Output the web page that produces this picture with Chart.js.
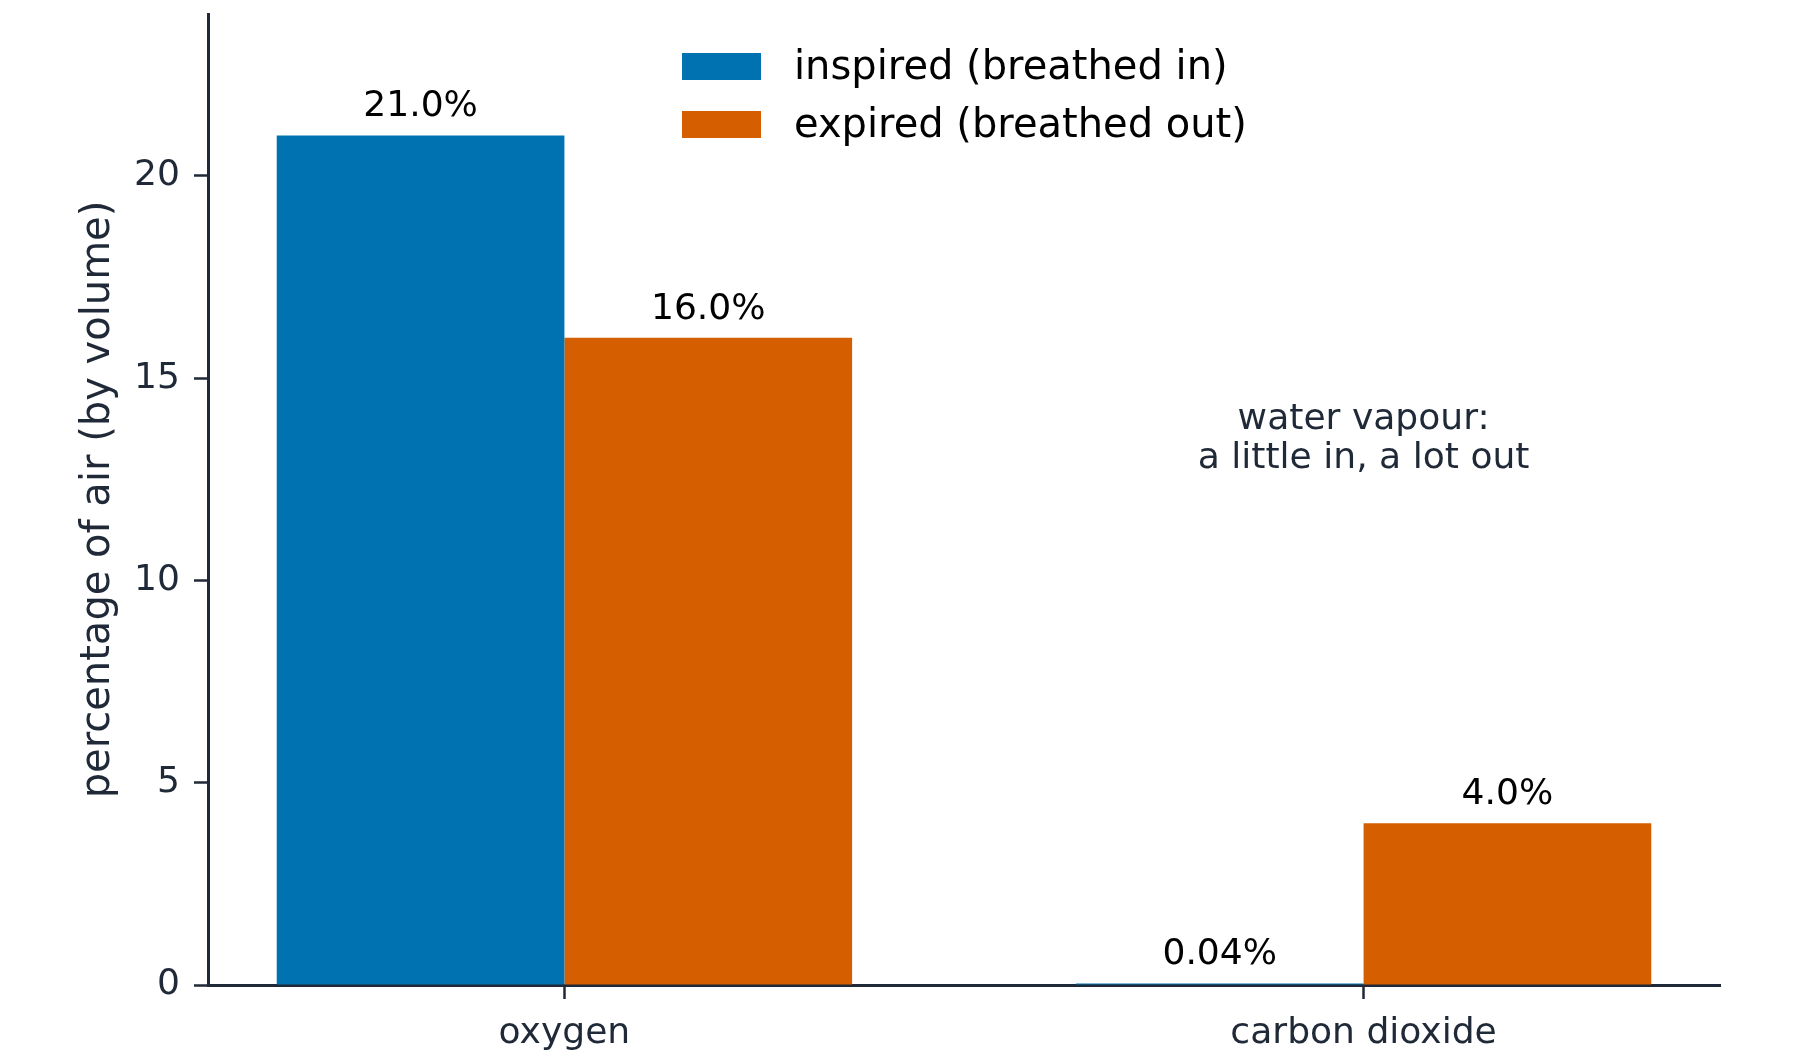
<!DOCTYPE html>
<html>
<head>
<meta charset="utf-8">
<script src="https://cdn.jsdelivr.net/npm/chart.js@4/dist/chart.umd.min.js"></script>
<style>
  html, body { margin: 0; padding: 0; background: #ffffff; }
  #wrap { width: 1800px; height: 1064px; position: relative; }
</style>
</head>
<body>
<div id="wrap"><canvas id="c" width="1800" height="1064"></canvas></div>
<script>
// ---- data ----
const categories = ['oxygen', 'carbon dioxide'];
const seriesNames = ['inspired (breathed in)', 'expired (breathed out)'];
const inspired = [21.0, 0.04];
const expired = [16.0, 4.0];
const yTicks = [0, 5, 10, 15, 20];
const yTitle = 'percentage of air (by volume)';
const noteLines = ['water vapour:', 'a little in, a lot out'];
const notePos = { x: 1, y: 13.5 };

// ---- style ----
const FONT = "'DejaVu Sans', 'Liberation Sans', sans-serif";
const INK = '#1f2937';
const BLUE = '#0072B2';
const ORANGE = '#D55E00';
const SMALL = 36.1;
const LARGE = 40;

function fmt(v) { return (v < 0.1 ? v.toFixed(2) : v.toFixed(1)) + '%'; }

const valueLabels = {
  id: 'valueLabels',
  afterDraw(chart) {
    const ctx = chart.ctx;
    ctx.save();
    ctx.font = SMALL + 'px ' + FONT;
    ctx.fillStyle = '#000000';
    ctx.textAlign = 'center';
    ctx.textBaseline = 'alphabetic';
    chart.data.datasets.forEach((ds, di) => {
      const meta = chart.getDatasetMeta(di);
      meta.data.forEach((el, i) => {
        ctx.fillText(fmt(ds.data[i].y), el.x, el.y - 19);
      });
    });
    ctx.restore();
  }
};

const note = {
  id: 'note',
  afterDraw(chart) {
    const ctx = chart.ctx;
    const xs = chart.scales.x, ys = chart.scales.y;
    const cx = xs.getPixelForValue(notePos.x);
    const cy = ys.getPixelForValue(notePos.y);
    const lh = 39;
    ctx.save();
    ctx.font = SMALL + 'px ' + FONT;
    ctx.fillStyle = INK;
    ctx.textAlign = 'center';
    ctx.textBaseline = 'middle';
    const n = noteLines.length;
    noteLines.forEach((t, i) => {
      ctx.fillText(t, cx, cy + (i - (n - 1) / 2) * lh);
    });
    ctx.restore();
  }
};

const legendInside = {
  id: 'legendInside',
  afterDraw(chart) {
    const ctx = chart.ctx;
    ctx.save();
    ctx.font = LARGE + 'px ' + FONT;
    ctx.textAlign = 'left';
    ctx.textBaseline = 'middle';
    const x0 = 682, y0 = 53, bw = 79, bh = 27, gap = 58, tx = 794;
    chart.data.datasets.forEach((ds, i) => {
      const y = y0 + i * gap;
      ctx.fillStyle = ds.backgroundColor;
      ctx.fillRect(x0, y, bw, bh);
      ctx.fillStyle = '#000000';
      ctx.fillText(ds.label, tx, y + bh / 2 + 2);
    });
    ctx.restore();
  }
};

const chart = new Chart(document.getElementById('c'), {
  type: 'bar',
  data: {
    datasets: [
      { label: seriesNames[0], data: inspired.map((v, i) => ({ x: i, y: v })), backgroundColor: BLUE, borderWidth: 0 },
      { label: seriesNames[1], data: expired.map((v, i) => ({ x: i, y: v })), backgroundColor: ORANGE, borderWidth: 0 }
    ]
  },
  options: {
    responsive: false,
    animation: false,
    devicePixelRatio: 1,
    categoryPercentage: 0.72,
    barPercentage: 1.0,
    layout: { padding: { top: 14, right: 80, left: 0, bottom: 0 } },
    plugins: {
      legend: { display: false },
      tooltip: { enabled: false },
      title: { display: false }
    },
    scales: {
      x: {
        type: 'linear',
        offset: false,
        z: 1,
        min: -0.446,
        max: 1.446,
        afterBuildTicks(scale) { scale.ticks = categories.map((c, i) => ({ value: i })); },
        afterFit(scale) { scale.height = 79; scale.paddingLeft = 0; scale.paddingRight = 0; },
        ticks: {
          callback: (v) => categories[v],
          font: { family: FONT, size: SMALL },
          color: INK,
          padding: 13,
          maxRotation: 0,
          autoSkip: false
        },
        grid: { offset: false, drawOnChartArea: false, drawTicks: true, tickLength: 14, tickWidth: 2.5, tickColor: INK },
        border: { display: true, color: INK, width: 3 }
      },
      y: {
        type: 'linear',
        z: 1,
        min: 0,
        max: 24,
        afterBuildTicks(scale) { scale.ticks = yTicks.map(v => ({ value: v })); },
        afterFit(scale) { scale.width = 208; scale.paddingTop = 0; scale.paddingBottom = 0; },
        ticks: {
          font: { family: FONT, size: SMALL },
          color: INK,
          padding: 14,
          includeBounds: false
        },
        title: {
          display: true,
          text: yTitle,
          font: { family: FONT, size: LARGE, lineHeight: 1.2 },
          color: INK,
          padding: { top: 75, bottom: 0 }
        },
        grid: { drawOnChartArea: false, drawTicks: true, tickLength: 14, tickWidth: 2.5, tickColor: INK },
        border: { display: true, color: INK, width: 3 }
      }
    }
  },
  plugins: [valueLabels, note, legendInside]
});
</script>
</body>
</html>
